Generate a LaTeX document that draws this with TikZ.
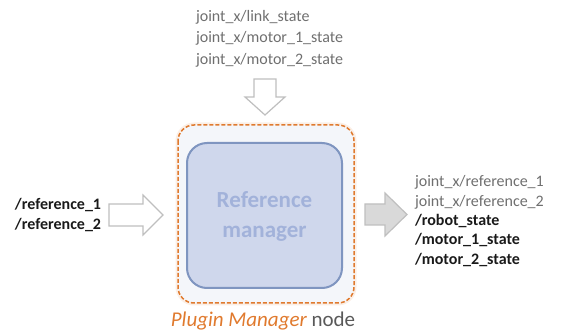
\documentclass[tikz,border=0pt]{standalone}
\usepackage{fontspec}
\setmainfont{Carlito}
\definecolor{txtgray}{HTML}{6F6F6F}
\definecolor{txtdark}{HTML}{1A1A1A}
\definecolor{arrgray}{HTML}{BFBFBF}
\definecolor{arrfill}{HTML}{D9D9D9}
\definecolor{plugorange}{HTML}{E07A2E}
\definecolor{outerfill}{HTML}{F4F6FA}
\definecolor{innerfill}{HTML}{CFD7EC}
\definecolor{innerline}{HTML}{7F95C0}
\definecolor{innertext}{HTML}{A2B2DA}
\tikzset{
  lbl/.style={inner sep=0pt, outer sep=0pt, align=left, font=\fontsize{16}{20}\selectfont},
  hollowarrow/.style={draw=arrgray, fill=white, line width=1.2pt, line join=miter},
  grayarrow/.style={draw=arrgray, fill=arrfill, line width=1.2pt, line join=miter},
}
\begin{document}
\begin{tikzpicture}[x=1pt,y=-1pt]
\useasboundingbox (0,0) rectangle (563,331);
% top text
\node[lbl, anchor=north west, text=txtgray, font=\fontsize{16}{21.5}\selectfont] (toptxt) at (196,10)
  {joint\_x/link\_state\\joint\_x/motor\_1\_state\\joint\_x/motor\_2\_state};
% down arrow
\draw[hollowarrow] (254,79) -- (276,79) -- (276,97) -- (285,97) -- (265,115) -- (245,97) -- (254,97) -- cycle;
\coordinate (downtip) at (265,115);
% plugin manager box
\draw[plugorange!12, line width=5pt, rounded corners=16pt] (178,125) rectangle (354,303);
\draw[plugorange, fill=outerfill, line width=1.5pt, dash pattern=on 4pt off 2pt, rounded corners=16pt] (178,125) rectangle (354,303);
\node[draw=none, inner sep=0pt, minimum width=178pt, minimum height=176pt] (plugin) at (266,214) {};
% inner box
\draw[innerline, fill=innerfill, line width=2pt, rounded corners=20pt] (187,143) rectangle (342,288);
\node[inner sep=0pt, align=center, text=innertext, font=\bfseries\fontsize{23}{30}\selectfont] (refmgr) at (264.5,216) {Reference\\manager};
% caption
\node[inner sep=0pt, font=\fontsize{21}{24}\selectfont] (caption) at (263,321)
  {\textcolor{plugorange}{\itshape Plugin Manager} \textcolor{txtgray!80!black}{node}};
% left text
\node[lbl, anchor=west, text=txtdark, font=\bfseries\fontsize{16}{19.5}\selectfont] (lefttxt) at (15,215)
  {/reference\_1\\/reference\_2};
% left arrow
\draw[hollowarrow] (109,204) -- (143,204) -- (143,195) -- (163,215) -- (143,235) -- (143,226) -- (109,226) -- cycle;
% right gray arrow
\draw[grayarrow] (365,204) -- (385,204) -- (385,193) -- (407,214.5) -- (385,236) -- (385,225) -- (365,225) -- cycle;
% right text
\node[lbl, anchor=west, font=\fontsize{16}{19.3}\selectfont] (righttxt) at (415,221)
  {\textcolor{txtgray}{joint\_x/reference\_1}\\\textcolor{txtgray}{joint\_x/reference\_2}\\
   \textcolor{txtdark}{\bfseries /robot\_state}\\\textcolor{txtdark}{\bfseries /motor\_1\_state}\\\textcolor{txtdark}{\bfseries /motor\_2\_state}};
\end{tikzpicture}
\end{document}
